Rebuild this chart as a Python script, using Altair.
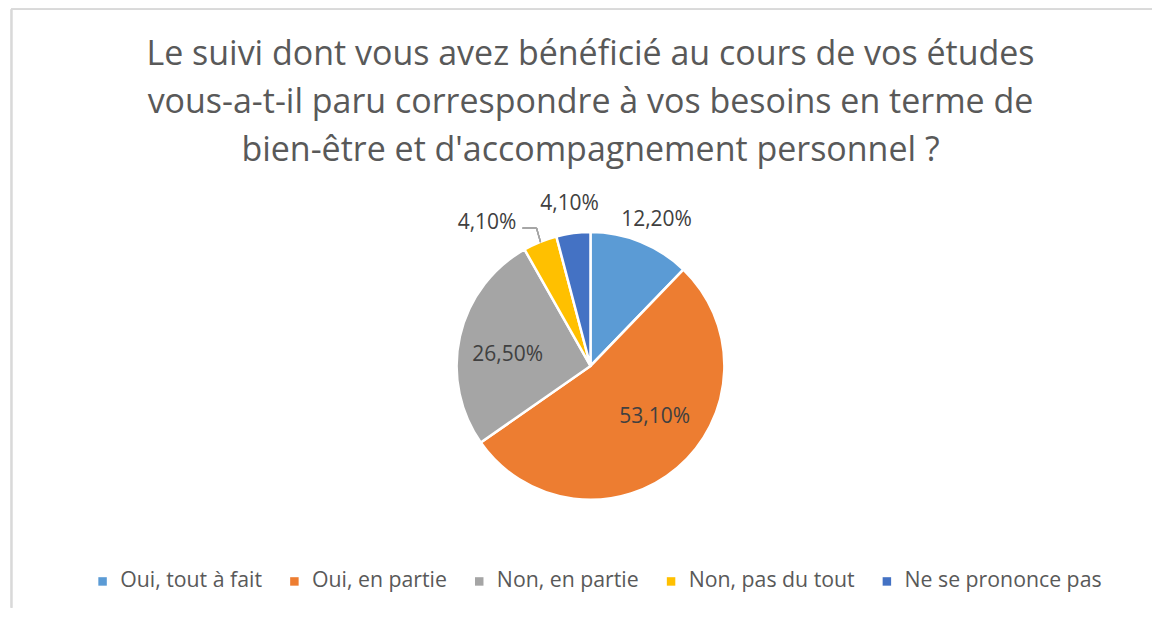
import altair as alt
import pandas as pd

categories = ["Oui, tout à fait", "Oui, en partie", "Non, en partie", "Non, pas du tout", "Ne se prononce pas"]
values = [12.2, 53.1, 26.5, 4.1, 4.1]
labels = ["12,20%", "53,10%", "26,50%", "4,10%", "4,10%"]
colors = ["#5B9BD5", "#ED7D31", "#A5A5A5", "#FFC000", "#4472C4"]
order = [1, 2, 3, 4, 5]
title_lines = [
    "Le suivi dont vous avez bénéficié au cours de vos études",
    "vous-a-t-il paru correspondre à vos besoins en terme de",
    "bien-être et d'accompagnement personnel ?",
]

df = pd.DataFrame({"cat": categories, "value": values, "label": labels, "order": order})

FONT = "Open Sans"
TOP = 200          # distance from frame top to the plot area
CX, CY = 583, 158  # pie centre inside the plot area
R = 134
W, H = 1145, 400

base = alt.Chart(df)

theta_scale = alt.Scale(domain=[0, 100])
color_enc = alt.Color(
    "cat:N",
    scale=alt.Scale(domain=categories, range=colors),
    sort=categories,
    legend=alt.Legend(
        title=None,
        orient="none",
        legendX=84,
        legendY=363,
        direction="horizontal",
        symbolType="square",
        symbolSize=72,
        symbolStrokeWidth=0,
        labelFont=FONT,
        labelFontSize=21.3,
        labelColor="#595959",
        labelOffset=7,
        labelLimit=400,
        columnPadding=21,
    ),
)

arcs = base.mark_arc(outerRadius=R, stroke="white", strokeWidth=2.5).encode(
    theta=alt.Theta("value:Q", stack=True, scale=theta_scale),
    order=alt.Order("order:Q"),
    color=color_enc,
    x=alt.value(CX),
    y=alt.value(CY),
)

lab = base.transform_window(
    cum="sum(value)", sort=[{"field": "order"}]
).transform_calculate(mid="datum.cum - datum.value / 2")


def text_layer(name, radius, dx=0, dy=0):
    return lab.transform_filter(
        alt.FieldEqualPredicate(field="cat", equal=name)
    ).mark_text(
        radius=radius, font=FONT, fontSize=21, color="#404040", dx=dx, dy=dy
    ).encode(
        theta=alt.Theta("mid:Q", stack=False, scale=theta_scale),
        text="label:N",
        x=alt.value(CX),
        y=alt.value(CY),
    )


t1 = text_layer(categories[0], 158, dx=7)
t2 = text_layer(categories[1], 85, dx=9, dy=-14)
t3 = text_layer(categories[2], 85, dy=8)
t4 = text_layer(categories[3], 158, dx=-44, dy=3)
t5 = text_layer(categories[4], 163)

# leader line for the small yellow slice label
lead1 = base.mark_rule(color="#A6A6A6", strokeWidth=1.3).encode(
    x=alt.value(515), x2=alt.value(529), y=alt.value(20), y2=alt.value(20)
)
lead2 = base.mark_rule(color="#A6A6A6", strokeWidth=1.3).encode(
    x=alt.value(529), x2=alt.value(533), y=alt.value(20), y2=alt.value(34)
)

# chart frame (top and left edges)
frame_top = base.mark_rule(color="#D9D9D9", strokeWidth=1.5).encode(
    x=alt.value(3), x2=alt.value(W), y=alt.value(-TOP + 1), y2=alt.value(-TOP + 1)
)
frame_left = base.mark_rule(color="#D9D9D9", strokeWidth=1.5).encode(
    x=alt.value(3.5), x2=alt.value(3.5), y=alt.value(-TOP + 1), y2=alt.value(H)
)

title = alt.Chart(alt.Data(values=[{}])).mark_text(
    text=title_lines,
    font=FONT,
    fontSize=34,
    color="#595959",
    lineHeight=48,
    align="center",
    baseline="alphabetic",
).encode(x=alt.value(583), y=alt.value(-143))

chart = alt.layer(
    frame_top, frame_left, title, arcs, lead1, lead2, t1, t2, t3, t4, t5
).properties(
    width=W,
    height=H,
    padding=0,
).configure_view(stroke=None)

chart.save("out.html", embed_options={"renderer": "svg", "actions": False})
